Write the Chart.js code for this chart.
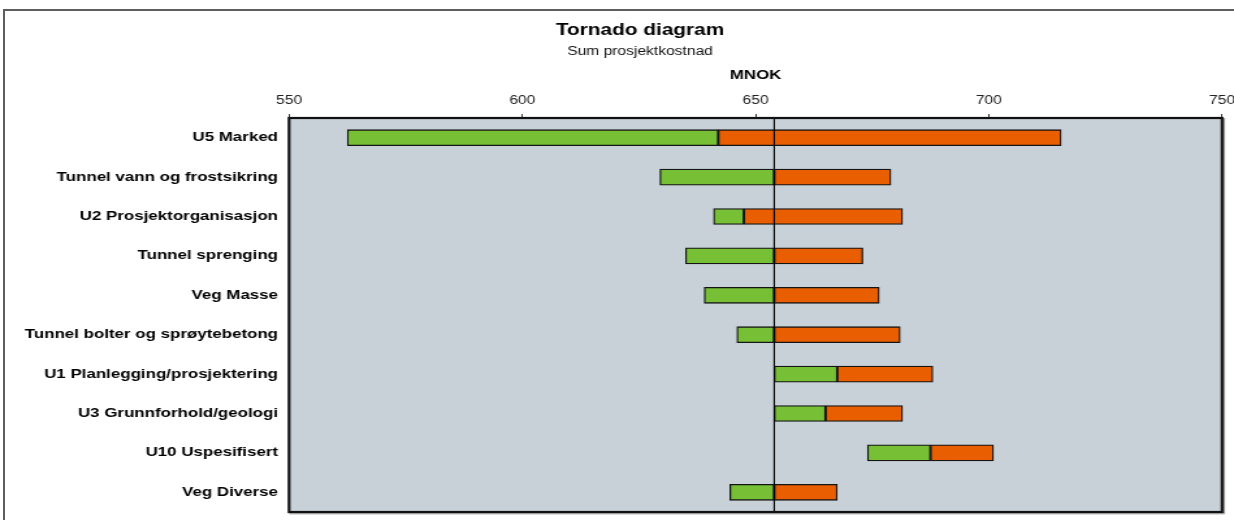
<!DOCTYPE html>
<html>
<head>
<meta charset="utf-8">
<script src="https://cdn.jsdelivr.net/npm/chart.js@4/dist/chart.umd.min.js"></script>
<style>
  html, body { margin: 0; padding: 0; background: #fff; overflow: hidden; }
  body { width: 1234px; height: 520px; position: relative; }
  #frame { position: absolute; left: 3px; top: 9px; width: 1400px; height: 700px;
           border-left: 2px solid #5e5e5e; border-top: 2px solid #5e5e5e; }
  /* the chart is laid out narrower and widened horizontally */
  #wrap { position: absolute; left: 0; top: 0; width: 949px; height: 520px;
          transform: scaleX(1.30032); transform-origin: 0 0; }
</style>
</head>
<body>
<div id="frame"></div>
<div id="wrap"><canvas id="c"></canvas></div>
<script>
// Tornado: sum project cost (MNOK) per uncertainty element
const categories = [
  'U5 Marked',
  'Tunnel vann og frostsikring',
  'U2 Prosjektorganisasjon',
  'Tunnel sprenging',
  'Veg Masse',
  'Tunnel bolter og sprøytebetong',
  'U1 Planlegging/prosjektering',
  'U3 Grunnforhold/geologi',
  'U10 Uspesifisert',
  'Veg Diverse'
];
const lowValues  = [562.5, 629.5, 641,   635, 639,   646, 654,   654,   674,   644.5];
const midValues  = [642,   654,   647.5, 654, 654,   654, 667.5, 665,   687.5, 654];
const highValues = [715.5, 679,   681.5, 673, 676.5, 681, 688,   681.5, 701,   667.5];
const baseValue = 654;
const axisMin = 550, axisMax = 750, axisStep = 50;
const titleText = 'Tornado diagram';
const subtitleText = 'Sum prosjektkostnad';

const FONT = "'Liberation Sans', Arial, sans-serif";

// heading block, centred over the whole figure (not only the plot)
const heading = {
  id: 'heading',
  afterDraw(chart) {
    const {ctx} = chart;
    const cx = 492.2;
    ctx.save();
    ctx.textAlign = 'center';
    ctx.textBaseline = 'middle';
    ctx.fillStyle = '#000';
    ctx.font = `bold 16px ${FONT}`;
    ctx.fillText(titleText, cx, 30.5);
    ctx.fillStyle = '#111';
    ctx.font = `12px ${FONT}`;
    ctx.fillText(subtitleText, cx, 51.2);
    ctx.restore();
  }
};

const plotDecor = {
  id: 'plotDecor',
  beforeDatasetsDraw(chart) {
    const {ctx, chartArea: a} = chart;
    ctx.save();
    ctx.fillStyle = '#C7D1D7';
    ctx.fillRect(a.left, a.top, a.right - a.left, a.bottom - a.top);
    ctx.restore();
  },
  afterDatasetsDraw(chart) {
    const {ctx, chartArea: a, scales} = chart;
    const x = scales.x.getPixelForValue(baseValue);
    ctx.save();
    // base case line
    ctx.strokeStyle = '#000';
    ctx.lineWidth = 1.1;
    ctx.beginPath();
    ctx.moveTo(x, a.top);
    ctx.lineTo(x, a.bottom);
    ctx.stroke();
    // soft shadow right/bottom
    ctx.strokeStyle = '#8a8a8a';
    ctx.lineWidth = 1;
    ctx.beginPath();
    ctx.moveTo(a.right + 1.8, a.top);
    ctx.lineTo(a.right + 1.8, a.bottom + 1.8);
    ctx.lineTo(a.left, a.bottom + 1.8);
    ctx.stroke();
    // plot frame
    ctx.strokeStyle = '#111';
    ctx.lineWidth = 2.2;
    ctx.strokeRect(a.left, a.top, a.right - a.left, a.bottom - a.top);
    ctx.restore();
  }
};

new Chart(document.getElementById('c'), {
  type: 'bar',
  data: {
    labels: categories,
    datasets: [
      {
        label: 'Lav',
        data: categories.map((_, i) => [lowValues[i], midValues[i]]),
        backgroundColor: '#77C036',
        borderColor: '#141414',
        borderWidth: 1.3,
        borderSkipped: false,
        barThickness: 16
      },
      {
        label: 'Høy',
        data: categories.map((_, i) => [midValues[i], highValues[i]]),
        backgroundColor: '#E85E00',
        borderColor: '#141414',
        borderWidth: 1.3,
        borderSkipped: false,
        barThickness: 16
      }
    ]
  },
  options: {
    indexAxis: 'y',
    responsive: true,
    maintainAspectRatio: false,
    animation: false,
    layout: { padding: { left: 10, right: 9.2, top: 57.6, bottom: 8 } },
    datasets: { bar: { grouped: false } },
    plugins: {
      legend: { display: false },
      tooltip: { enabled: false },
      title: { display: false },
      subtitle: { display: false }
    },
    scales: {
      x: {
        type: 'linear',
        position: 'top',
        min: axisMin,
        max: axisMax,
        afterFit(scale) {
          scale.height = 60.4;
          scale.paddingLeft = 0;
          scale.paddingRight = 0;
        },
        ticks: {
          stepSize: axisStep,
          color: '#222',
          padding: 6.5,
          font: { family: FONT, size: 12 }
        },
        grid: {
          drawOnChartArea: false,
          drawTicks: true,
          tickLength: 4,
          color: '#333'
        },
        border: { display: false },
        title: {
          display: true,
          text: 'MNOK',
          color: '#000',
          font: { family: FONT, size: 13, weight: 'bold' },
          padding: { top: 9.6, bottom: 0 }
        }
      },
      y: {
        type: 'category',
        afterFit(scale) {
          scale.width = 212.3;
          scale.paddingTop = 0;
          scale.paddingBottom = 0;
        },
        ticks: {
          color: '#000',
          padding: 8.5,
          font: { family: FONT, size: 13, weight: 'bold' }
        },
        grid: { display: false, drawTicks: false },
        border: { display: false }
      }
    }
  },
  plugins: [plotDecor, heading]
});
</script>
</body>
</html>
